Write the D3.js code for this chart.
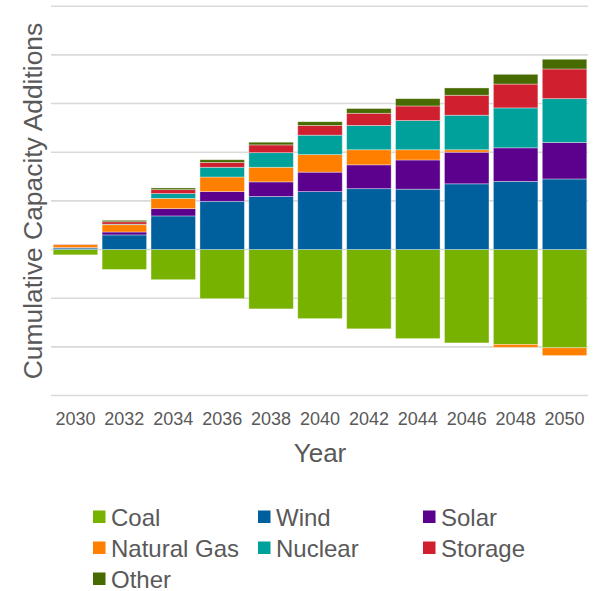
<!DOCTYPE html>
<html><head><meta charset="utf-8">
<script src="https://cdn.jsdelivr.net/npm/d3@7"></script>
<style>body{margin:0;background:#fff}svg{display:block}text{font-family:"Liberation Sans",Arial,sans-serif;fill:#595959}</style>
</head><body><div id="chart"></div>
<script>
const years = ["2030","2032","2034","2036","2038","2040","2042","2044","2046","2048","2050"];
const coal       = [-0.11,-0.41,-0.62,-1.01,-1.22,-1.42,-1.63,-1.83,-1.92,-1.95,-2.02];
const wind       = [0.03,0.30,0.69,0.99,1.09,1.19,1.25,1.24,1.35,1.40,1.45];
const solar      = [0.01,0.06,0.15,0.20,0.30,0.40,0.49,0.60,0.65,0.69,0.75];
const naturalGas = [0.06,0.15,0.21,0.30,0.30,0.36,0.31,0.21,0.05,-0.06,-0.16];
const nuclear    = [0.005,0.01,0.10,0.20,0.30,0.40,0.50,0.60,0.71,0.82,0.90];
const storage    = [0.005,0.05,0.08,0.10,0.16,0.20,0.25,0.30,0.41,0.49,0.61];
const other      = [0.0,0.03,0.035,0.055,0.055,0.076,0.097,0.15,0.15,0.20,0.20];
const yTicks = [-3,-2,-1,0,1,2,3,4,5];

const series = [
  {name:"Coal", values:coal, color:"#78B200"},
  {name:"Wind", values:wind, color:"#00609D"},
  {name:"Solar", values:solar, color:"#5C008E"},
  {name:"Natural Gas", values:naturalGas, color:"#FF7F00"},
  {name:"Nuclear", values:nuclear, color:"#00A19A"},
  {name:"Storage", values:storage, color:"#D0202F"},
  {name:"Other", values:other, color:"#476B00"}
];

const W=595,H=591;
const svg=d3.select("#chart").append("svg").attr("width",W).attr("height",H);
const x=d3.scaleBand().domain(years).range([51,589]).paddingInner(0.09).paddingOuter(0.045);
const y=d3.scaleLinear().domain([-3,5]).range([395.5,6.2]);

// gridlines
svg.append("g").selectAll("line").data(yTicks).join("line")
  .attr("x1",51).attr("x2",588).attr("y1",d=>y(d)).attr("y2",d=>y(d))
  .attr("stroke","#d9d9d9").attr("stroke-width",1.6);

// stacking with positive/negative separation
const rows = years.map((yr,i)=>{const o={year:yr}; series.forEach(s=>o[s.name]=s.values[i]); return o;});
const stack=d3.stack().keys(series.map(s=>s.name)).offset(d3.stackOffsetDiverging);
const stacked=stack(rows);

const g=svg.append("g");
stacked.forEach((layer,k)=>{
  g.append("g").selectAll("rect").data(layer).join("rect")
    .attr("x",d=>x(d.data.year))
    .attr("width",x.bandwidth())
    .attr("y",d=>y(Math.max(d[0],d[1])))
    .attr("height",d=>Math.abs(y(d[0])-y(d[1])))
    .attr("fill",series[k].color)
    .attr("stroke","rgba(255,255,255,0.45)").attr("stroke-width",0.8);
});

// x labels
svg.append("g").selectAll("text").data(years).join("text")
  .attr("x",d=>x(d)+x.bandwidth()/2).attr("y",425)
  .attr("text-anchor","middle").attr("font-size",18).text(d=>d);

svg.append("text").attr("x",320).attr("y",462).attr("text-anchor","middle")
  .attr("font-size",26).text("Year");

svg.append("text").attr("transform","translate(42,201) rotate(-90)")
  .attr("text-anchor","middle").attr("font-size",26.4).text("Cumulative Capacity Additions");

// legend
const colX=[93,258,423], rowY=[517,548,579];
const lg=svg.append("g");
series.forEach((s,i)=>{
  const cx=colX[i%3], cy=rowY[Math.floor(i/3)];
  lg.append("rect").attr("x",cx).attr("y",cy-6.5).attr("width",12.5).attr("height",12.5).attr("fill",s.color);
  lg.append("text").attr("x",cx+18).attr("y",cy+8.5).attr("font-size",24).text(s.name);
});
</script></body></html>
